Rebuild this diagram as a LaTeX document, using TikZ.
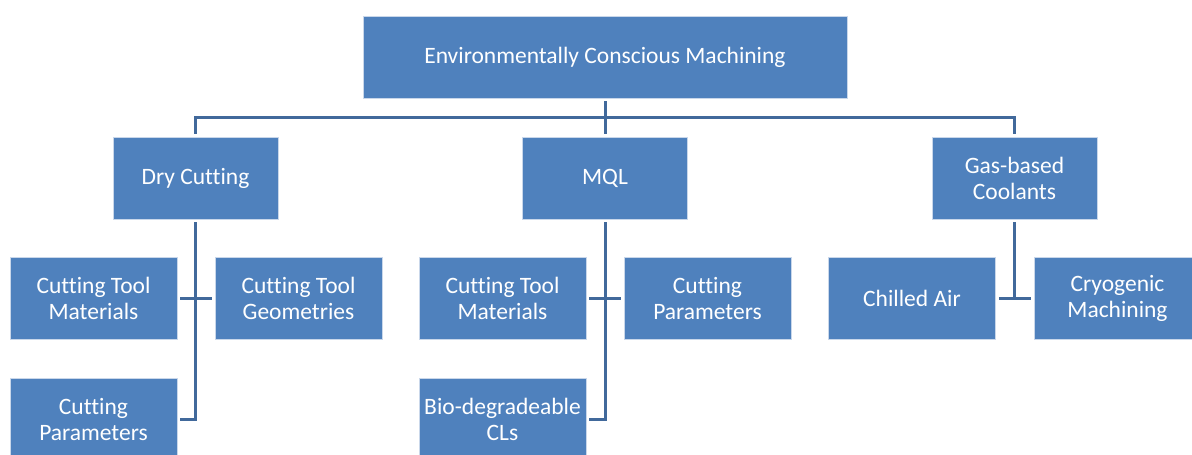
\documentclass[tikz,border=0pt]{standalone}
\usepackage{fontspec}
\setmainfont{Carlito}[Ligatures=NoCommon]
\definecolor{boxfill}{HTML}{4F81BD}
\definecolor{boxedge}{HTML}{C9D7EA}
\definecolor{linecol}{HTML}{41699B}
\begin{document}
\begin{tikzpicture}[x=1pt,y=-1pt,
  box/.style={rectangle, fill=boxfill, draw=boxedge, line width=0.8pt,
    text=white, align=center, inner sep=0pt,
    font=\fontsize{23.5}{26}\selectfont},
  lvl/.style={box, minimum width=165pt, minimum height=82pt},
  leaf/.style={box, minimum width=167pt, minimum height=82pt},
  conn/.style={draw=linecol, line width=3pt, shorten <=3pt, shorten >=3pt}]
\useasboundingbox (0,0) rectangle (1192,455);
\clip (0,0) rectangle (1192,455);
% top
\node[box, minimum width=484pt, minimum height=82pt] (top) at (605,57) {Environmentally Conscious Machining};
% level 1
\node[lvl] (dry) at (195.5,178) {Dry Cutting};
\node[lvl] (mql) at (605,178) {MQL};
\node[lvl] (gas) at (1014.5,178) {Gas-based\\Coolants};
% dry children
\node[leaf] (ctm1) at (93.5,298) {Cutting Tool\\Materials};
\node[leaf] (ctg) at (298.5,298) {Cutting Tool\\Geometries};
\node[leaf] (cp1) at (93.5,419) {Cutting\\Parameters};
% mql children
\node[leaf] (ctm2) at (502.5,298) {Cutting Tool\\Materials};
\node[leaf] (cp2) at (707.5,298) {Cutting\\Parameters};
\node[leaf] (bio) at (502.5,419) {Bio-degradeable\\CLs};
% gas children
\node[leaf] (chill) at (912,298) {Chilled Air};
\node[leaf] (cryo) at (1117.5,298) {Cryogenic\\Machining};
% connectors top level
\coordinate (bus) at (605,117);
\draw[conn, shorten >=0pt] (top.south) -- (bus);
\draw[conn, shorten <=0pt] (bus) -- (mql.north);
\draw[conn, shorten <=-1.5pt] (bus) -| (dry.north);
\draw[conn, shorten <=-1.5pt] (bus) -| (gas.north);
% dry
\draw[conn] (dry.south) |- (cp1.east);
\draw[conn] (ctm1.east) -- (ctg.west);
% mql
\draw[conn] (mql.south) |- (bio.east);
\draw[conn] (ctm2.east) -- (cp2.west);
% gas
\draw[conn, shorten >=-1.5pt] (gas.south) -- (gas.south |- chill.east);
\draw[conn] (chill.east) -- (cryo.west);
\end{tikzpicture}
\end{document}
